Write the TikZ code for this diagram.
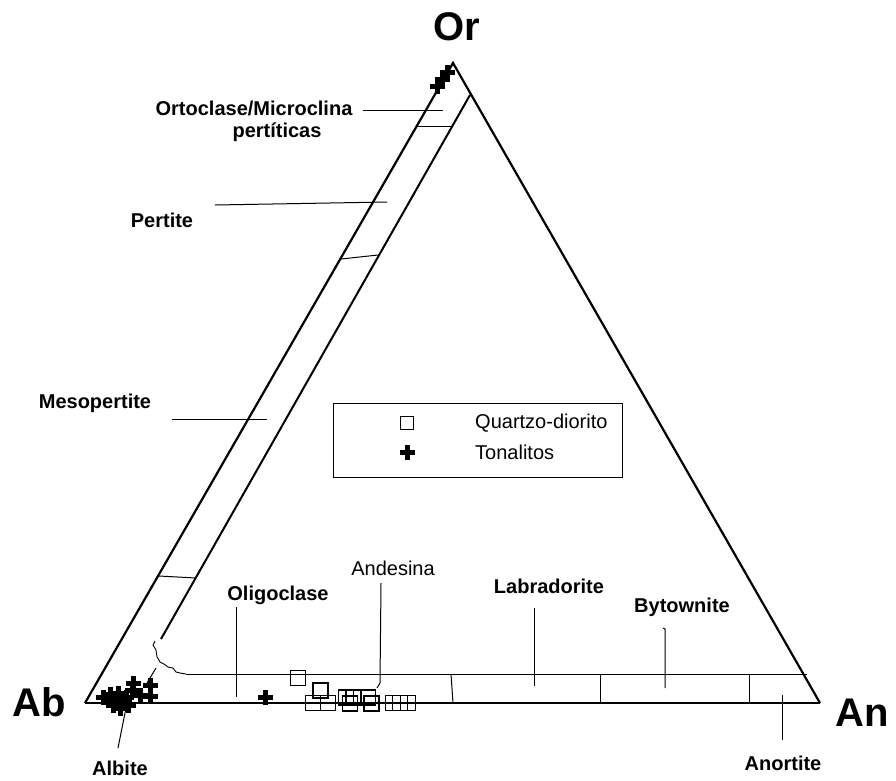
\documentclass[tikz,border=0pt]{standalone}
\usepackage{fontspec}
\setmainfont{Liberation Sans}
\begin{document}
\begin{tikzpicture}[x=1pt,y=-1pt,
  edge/.style={line width=2.2pt,line join=miter},
  thin/.style={line width=1pt},
  lbl/.style={font=\fontsize{20}{23}\selectfont\bfseries,inner sep=0pt},
  lblr/.style={font=\fontsize{20}{23}\selectfont,inner sep=0pt},
  big/.style={font=\fontsize{40}{44}\selectfont\bfseries,inner sep=0pt},
  qd/.style={draw,line width=1.6pt,minimum size=15pt,inner sep=0pt,fill=none},
  tonal/.pic={\fill (-7.5,-2.5) rectangle (7.5,2.5); \fill (-2.5,-7.5) rectangle (2.5,7.5);}]
\useasboundingbox (0,0) rectangle (896,780);
% vertices
\coordinate (Ab) at (85,703);
\coordinate (Or) at (453,63);
\coordinate (An) at (820,703);
\draw[edge] (Ab) -- (Or) -- (An);
\draw[line width=2.8pt] (Ab) -- (An);
% inner band line
\coordinate (i1) at (470,95);
\coordinate (i2) at (161,639);
\draw[line width=2pt] (i1) -- (i2);
% ticks in band
\draw[thin] (417,126) -- (452,126);
\draw[thin] (341,259) -- (378,255);
\draw[thin] (159,576) -- (196,578);
% wiggly boundary
\draw[line width=0.9pt] (155,641) -- (153,645) -- (156,650) -- (157,657) -- (160,662) -- (164,664) -- (168,667) -- (173,668) -- (176,672) -- (180,673) -- (186,674);
\coordinate (h1) at (186,674);
\coordinate (h2) at (807,674);
\draw[thin] (h1) -- (h2);
\draw[thin] (156,668) -- (147,683);
% ticks between horizontal and base
\draw[thin] (451,674) -- (453,703);
\draw[thin] (600,674) -- (600,703);
\draw[thin] (749,674) -- (749,703);
% big labels
\node[big] (lOr) at (457,27) {Or};
\node[big] (lAb) at (39,702) {Ab};
\node[big] (lAn) at (862,713) {An};
% field labels
\node[lbl] (tOrt) at (254,108) {Ortoclase/Microclina};
\node[lbl] (tOrt2) at (277,132) {pertíticas};
\draw[thin] (363,110) -- (443,110);
\node[lbl] (tPer) at (162,220) {Pertite};
\draw[thin] (215,205) -- (387,202);
\node[lbl] (tMes) at (95,403) {Mesopertite};
\draw[thin] (172,419) -- (267,419);
\node[lbl] (tOli) at (278,595) {Oligoclase};
\draw[thin] (236,607) -- (236,697);
\node[lblr] (tAnd) at (393,568) {Andesina};
\draw[thin] (381,583) -- (380,683) -- (377,688);
\node[lbl] (tLab) at (549,586) {Labradorite};
\draw[thin] (534,608) -- (534,686);
\node[lbl] (tByt) at (682,607) {Bytownite};
\draw[thin] (663,628) -- (665,629) -- (665,688);
\node[lbl] (tAno) at (783,763) {Anortite};
\draw[thin] (782,695) -- (782,740);
\node[lbl] (tAlb) at (120,768) {Albite};
\draw[thin] (127,703) -- (118,748);
% legend
\node[draw,line width=1pt,minimum width=289pt,minimum height=74pt,inner sep=0pt] (leg) at (477.5,440) {};
\node[qd,minimum size=13pt,line width=1.3pt] (lsq) at (407,423) {};
\pic at (407,452) {tonal};
\node[lblr,anchor=west] (tQd) at (475,423) {Quartzo-diorito};
\node[lblr,anchor=west] (tTo) at (475,452) {Tonalitos};
% quartzo-diorito data
\foreach \x/\y [count=\i] in {298/678, 320.5/690.3, 313/703, 328/703, 346/697.3, 353.7/697.3, 368/697.3, 350/703.3, 371.7/703.3, 393/703, 400/703, 408/703}
  \node[qd] (q\i) at (\x,\y) {};
% tonalitos data
\foreach \x/\y in {103/697,108/700,110/694,115/700,118/693,122/703,126/697,113/705,118/700,124/700,120/708,128/705,132/690,133/683,140/695,150/685,150/696,265/697,447/72,442/79,437/86}
  \pic at (\x,\y) {tonal};
\end{tikzpicture}
\end{document}
